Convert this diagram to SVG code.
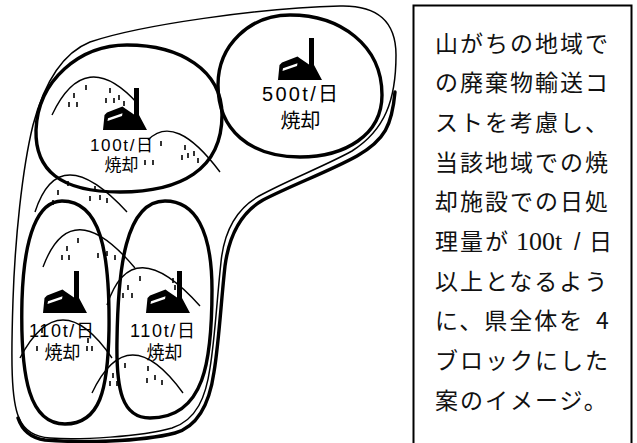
<svg xmlns="http://www.w3.org/2000/svg" xmlns:xlink="http://www.w3.org/1999/xlink" width="637" height="443" viewBox="0 0 637 443">
  <style>
    .thick { fill: none; stroke: #000; stroke-width: 3.4; stroke-linejoin: round; stroke-linecap: round; }
    .thin { fill: none; stroke: #000; stroke-width: 1.5; stroke-linecap: round; }
    .ridge { fill: none; stroke: #000; stroke-width: 1.4; }
    .tick { fill: none; stroke: #000; stroke-width: 1.6; }
    .label { font-family: "Liberation Sans", "Noto Sans CJK JP", sans-serif; fill: #000; text-anchor: middle; }
    .note { font-family: "Noto Sans CJK JP", "Noto Sans", sans-serif; font-size: 23px; letter-spacing: 2px; fill: #111; }
    .serif { font-family: "Liberation Serif", "Noto Sans CJK JP", serif; font-size: 26px; letter-spacing: 0; }
  </style>
  <defs>
    <!-- incinerator plant pictogram, origin at bottom-left of the building -->
    <g id="plant">
      <path d="M0,0 L1.5,-15 L4,-17.5 L19.5,-23.5 L21.5,-22 L31,-15.5 L31,-42 L36,-42 L36,-15 L44,0 Z" fill="#000"/>
      <path d="M4.5,-9 L19,-14 L19.5,-16.8 L5,-11.8 Z" fill="#fff"/>
    </g>
  </defs>
  <rect width="637" height="443" fill="#fff"/>

  <!-- prefecture outline -->
  <g id="outline">
    <path class="thin" d="M90,42 C140,25 260,8 340,6 C378,5 396,22 396,55 C396,100 385,130 352,151 C325,166 288,180 259,196 C236,209 224,232 221,262 C217,298 215,338 210,368 C206,396 197,420 172,428 C140,437 80,440 50,438 C35,437 24,430 19,418 C11,400 11,360 13,300 C15,240 22,170 33,125 C45,80 65,52 90,42 Z"/>
    <path class="thick" d="M395,92 C392,125 385,140 357,156 C330,171 292,185 263,200 C240,213 229,236 225,266 C221,302 219,342 214,372 C210,400 200,426 175,433 C140,442 80,443 45,440 C30,438 22,430 18,418"/>
  </g>

  <!-- mountain ridges with tree marks -->
  <g id="mountains">
    <path class="ridge" d="M52,115 Q85,45 138,104"/>
    <path class="ridge" d="M148,140 Q175,112 220,172"/>
    <path class="ridge" d="M35,212 Q59,138 127,212"/>
    <path class="ridge" d="M43,267 Q71,192 135,268"/>
    <path class="ridge" d="M107,305 Q132,230 200,306"/>
    <path class="ridge" d="M20,358 Q60,282 112,358"/>
    <path class="ridge" d="M92,393 Q128,317 183,393"/>
    <path class="tick" d="M86,85v5 M74,93v5 M69,102v5 M77,102v5 M110,88v5 M106,98v5 M114,98v5 M119,95v5 M124,101v5
                          M161,141v5 M153,160v5 M145,160v5 M185,145v5 M182,155v5 M188,153v5 M194,151v5 M198,158v5
                          M58,190v5 M53,200v5 M68,181v5 M90,196v5 M95,186v5 M100,195v5 M107,198v5
                          M78,238v5 M67,246v5 M62,255v5 M69,255v5 M102,241v5 M98,253v5 M107,251v5 M115,255v5
                          M140,276v5 M128,285v5 M123,293v5 M132,293v5 M173,278v5 M175,285v5
                          M42,328v5 M37,346v5 M88,338v5 M87,346v5 M92,346v5
                          M125,363v5 M113,373v5 M110,381v5 M117,381v5 M148,366v5 M147,378v5 M155,375v5 M162,380v5"/>
  </g>

  <!-- block: 500 t/day -->
  <g id="block-500">
    <path class="thick" d="M290,15 C250,15 218,45 218,85 C218,130 250,157 300,157 C345,157 382,135 382,95 C382,45 340,15 290,15 Z"/>
    <use xlink:href="#plant" x="278" y="80"/>
    <text class="label" x="300" y="101" font-size="20" textLength="76" lengthAdjust="spacing">500t/日</text>
    <text class="label" x="300.5" y="128" font-size="20">焼却</text>
  </g>

  <!-- block: 100 t/day -->
  <g id="block-100">
    <path class="thick" d="M127,45 C80,45 38,80 36,130 C35,170 60,192 120,192 C180,192 222,170 222,115 C222,70 180,45 127,45 Z"/>
    <use xlink:href="#plant" x="103" y="130"/>
    <text class="label" x="121.5" y="151" font-size="17" textLength="63" lengthAdjust="spacing">100t/日</text>
    <text class="label" x="121.5" y="171" font-size="17">焼却</text>
  </g>

  <!-- block: 110 t/day (west) -->
  <g id="block-110-west">
    <path class="thick" d="M62,201 C38,201 24,235 22,300 C20,380 30,424 65,424 C100,424 108,390 109,330 C110,250 100,201 62,201 Z"/>
    <use xlink:href="#plant" x="43" y="313"/>
    <text class="label" x="61.5" y="336.5" font-size="18" textLength="65" lengthAdjust="spacing">110t/日</text>
    <text class="label" x="62.5" y="358.5" font-size="18">焼却</text>
  </g>

  <!-- block: 110 t/day (east) -->
  <g id="block-110-east">
    <path class="thick" d="M165,201 C195,201 212,230 212,290 C212,360 205,418 150,418 C122,418 116,390 117,340 C118,270 125,201 165,201 Z"/>
    <use xlink:href="#plant" x="146" y="313"/>
    <text class="label" x="162.5" y="336.5" font-size="18" textLength="65" lengthAdjust="spacing">110t/日</text>
    <text class="label" x="164.5" y="358.5" font-size="18">焼却</text>
  </g>

  <!-- explanatory note -->
  <g id="note">
    <path d="M413.5,450 V5.5 H631.5 V450" fill="none" stroke="#000" stroke-width="2"/>
    <text class="note" x="435" y="51.5">山がちの地域で</text>
    <text class="note" x="435" y="91.2">の廃棄物輸送コ</text>
    <text class="note" x="435" y="130.9">ストを考慮し、</text>
    <text class="note" x="435" y="170.6">当該地域での焼</text>
    <text class="note" x="435" y="210.3">却施設での日処</text>
    <text class="note" x="435" y="250">理量が<tspan class="serif" x="516">100t</tspan><tspan x="574" font-family="Liberation Sans, sans-serif" letter-spacing="0">/</tspan><tspan x="589">日</tspan></text>
    <text class="note" x="435" y="289.7">以上となるよう</text>
    <text class="note" x="435" y="329.4">に、県全体を<tspan x="596">4</tspan></text>
    <text class="note" x="435" y="369.1">ブロックにした</text>
    <text class="note" x="435" y="408.8">案のイメージ。</text>
  </g>
</svg>
